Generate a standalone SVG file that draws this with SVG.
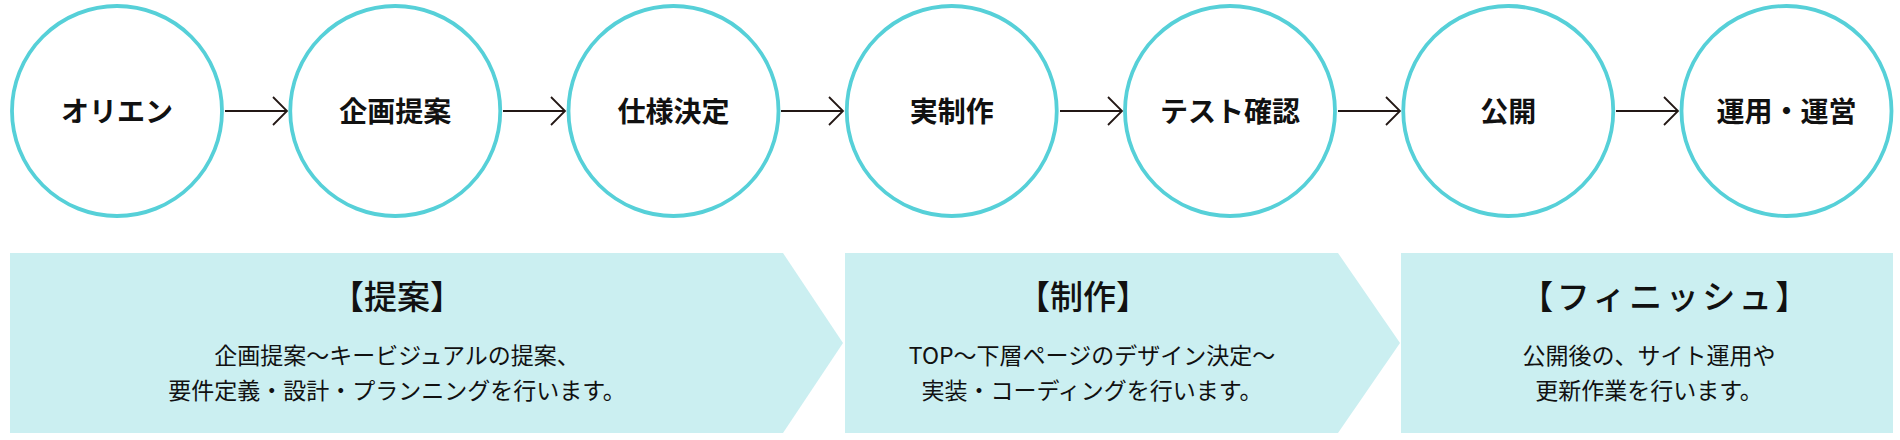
<svg xmlns="http://www.w3.org/2000/svg" width="1900" height="440" viewBox="0 0 1900 440">
<defs>
<style>
.node circle{fill:#ffffff;stroke:#56d0d8;stroke-width:3.8}
.node text{font-family:"Noto Sans CJK JP","Noto Sans",sans-serif;font-weight:700;font-size:28px;fill:#111111;text-anchor:middle}
.conn line{stroke:#231815;stroke-width:1.8}
.conn path{fill:none;stroke:#231815;stroke-width:1.8}
.band polygon{fill:#cbeff1}
.band .title{font-family:"Noto Sans CJK JP","Noto Sans",sans-serif;font-weight:500;font-size:33px;fill:#111111;text-anchor:middle}
.band .body{font-family:"Noto Sans CJK JP","Noto Sans",sans-serif;font-weight:400;font-size:23px;fill:#111111;text-anchor:middle}
</style>
</defs>
<rect width="1900" height="440" fill="#ffffff"/>

<g id="connectors" class="conn">
<line x1="225" y1="111" x2="287" y2="111"/><path d="M273,97 L287,111 L273,125"/>
<line x1="503" y1="111" x2="565" y2="111"/><path d="M551,97 L565,111 L551,125"/>
<line x1="781" y1="111" x2="843" y2="111"/><path d="M829,97 L843,111 L829,125"/>
<line x1="1060" y1="111" x2="1122" y2="111"/><path d="M1108,97 L1122,111 L1108,125"/>
<line x1="1338" y1="111" x2="1400" y2="111"/><path d="M1386,97 L1400,111 L1386,125"/>
<line x1="1616" y1="111" x2="1678" y2="111"/><path d="M1664,97 L1678,111 L1664,125"/>
</g>

<g id="n1" class="node"><circle cx="117" cy="111" r="105"/><text x="117" y="121.5">オリエン</text></g>
<g id="n2" class="node"><circle cx="395.25" cy="111" r="105"/><text x="395.25" y="121.5">企画提案</text></g>
<g id="n3" class="node"><circle cx="673.5" cy="111" r="105"/><text x="673.5" y="121.5">仕様決定</text></g>
<g id="n4" class="node"><circle cx="951.75" cy="111" r="105"/><text x="951.75" y="121.5">実制作</text></g>
<g id="n5" class="node"><circle cx="1230" cy="111" r="105"/><text x="1230" y="121.5">テスト確認</text></g>
<g id="n6" class="node"><circle cx="1508.25" cy="111" r="105"/><text x="1508.25" y="121.5">公開</text></g>
<g id="n7" class="node"><circle cx="1786.5" cy="111" r="105"/><text x="1786.5" y="121.5">運用・運営</text></g>

<g id="band1" class="band">
<polygon points="10,253 783,253 843,343 783,433 10,433"/>
<text class="title" x="397" y="309">【提案】</text>
<text class="body" x="397" y="364">企画提案〜キービジュアルの提案、</text>
<text class="body" x="397" y="399">要件定義・設計・プランニングを行います。</text>
</g>
<g id="band2" class="band">
<polygon points="845,253 1338,253 1400,343 1338,433 845,433"/>
<text class="title" x="1083" y="309">【制作】</text>
<text class="body" x="1092" y="364">TOP〜下層ページのデザイン決定〜</text>
<text class="body" x="1092" y="399">実装・コーディングを行います。</text>
</g>
<g id="band3" class="band">
<polygon points="1401,253 1893,253 1893,433 1401,433"/>
<text class="title" x="1666" y="309" letter-spacing="3.5">【フィニッシュ】</text>
<text class="body" x="1649" y="364">公開後の、サイト運用や</text>
<text class="body" x="1649" y="399">更新作業を行います。</text>
</g>
</svg>
